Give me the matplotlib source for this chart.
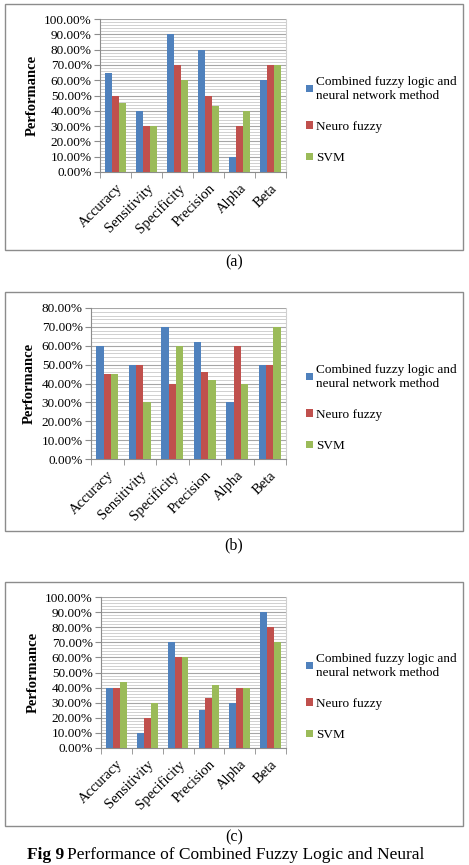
import matplotlib
matplotlib.use("Agg")
import matplotlib.pyplot as plt
from matplotlib.patches import Rectangle
from matplotlib.ticker import MultipleLocator, FuncFormatter
import numpy as np

plt.rcParams["font.family"] = ["Liberation Serif", "DejaVu Serif"]

categories = ["Accuracy", "Sensitivity", "Specificity", "Precision", "Alpha", "Beta"]
series_names = ["Combined fuzzy logic and\nneural network method", "Neuro fuzzy", "SVM"]
colors = ["#4F81BD", "#C0504D", "#9BBB59"]

# panel (a)
a_combined = [65, 40, 90, 80, 10, 60]
a_neuro = [50, 30, 70, 50, 30, 70]
a_svm = [45, 30, 60, 43, 40, 70]
# panel (b)
b_combined = [60, 50, 70, 62, 30, 50]
b_neuro = [45, 50, 40, 46, 60, 50]
b_svm = [45, 30, 60, 42, 40, 70]
# panel (c)
c_combined = [40, 10, 70, 25, 30, 90]
c_neuro = [40, 20, 60, 33, 40, 80]
c_svm = [44, 30, 60, 42, 40, 70]

W, H = 469, 865
fig = plt.figure(figsize=(W / 100, H / 100), dpi=100)


def frac(x0, y0, x1, y1):
    """pixel box (top-left origin) -> figure fraction rect"""
    return [x0 / W, 1 - y1 / H, (x1 - x0) / W, (y1 - y0) / H]


def panel(box, plot, ymax, data, tag, tag_y, leg_y):
    bx = frac(*box)
    fig.patches.append(Rectangle((bx[0], bx[1]), bx[2], bx[3], transform=fig.transFigure,
                                 fill=False, edgecolor="#8c8c8c", lw=1.0))
    ax = fig.add_axes(frac(*plot))
    x = np.arange(len(categories))
    bw = 0.225
    for i, (vals, c, name) in enumerate(zip(data, colors, series_names)):
        ax.bar(x + (i - 1) * bw, vals, bw, color=c, label=name, zorder=3)
    ax.set_xlim(-0.5, len(categories) - 0.5)
    ax.set_ylim(0, ymax)
    ax.yaxis.set_major_locator(MultipleLocator(10))
    ax.yaxis.set_minor_locator(MultipleLocator(2))
    ax.yaxis.set_major_formatter(FuncFormatter(lambda v, p: f"{v:.2f}%"))
    ax.grid(axis="y", which="major", color="#a6a6a6", lw=0.8, zorder=0)
    ax.grid(axis="y", which="minor", color="#d0d0d0", lw=0.7, zorder=0)
    ax.set_xticks(x)
    ax.set_xticklabels(categories, rotation=45, ha="right", rotation_mode="anchor",
                       fontsize=10.5)
    ax.set_xticks(np.arange(len(categories) + 1) - 0.5, minor=True)
    ax.tick_params(axis="x", which="major", length=0, pad=7)
    ax.tick_params(axis="x", which="minor", length=4, color="#8c8c8c")
    ax.tick_params(axis="y", which="major", length=4, color="#8c8c8c", labelsize=9.5, pad=2)
    ax.tick_params(axis="y", which="minor", length=0)
    for s in ("left", "bottom"):
        ax.spines[s].set_color("#8c8c8c")
    ax.spines["top"].set_visible(False)
    ax.spines["right"].set_color("#d0d0d0")
    ax.set_ylabel("Performance", fontsize=10.5, fontweight="bold", labelpad=4)
    ax.legend(loc="center left", bbox_to_anchor=(306 / W, 1 - leg_y / H),
              bbox_transform=fig.transFigure, frameon=False, fontsize=9.5,
              handlelength=0.5, handleheight=0.5, handletextpad=0.25,
              labelspacing=1.45, borderpad=0, borderaxespad=0)
    fig.text(234 / W, 1 - tag_y / H, tag, ha="center", va="center", fontsize=11.5)
    return ax


panel((5, 4, 463, 250), (100, 19, 286, 172), 100, [a_combined, a_neuro, a_svm], "(a)", 262, 120)
panel((5, 292, 463, 531), (91, 308, 286, 459), 80, [b_combined, b_neuro, b_svm], "(b)", 545, 408)
panel((5, 582, 463, 826), (101, 597, 286, 748), 100, [c_combined, c_neuro, c_svm], "(c)", 837, 697)

cap_y = 1 - 855 / H
t1 = fig.text(27 / W, cap_y, "Fig 9", ha="left", va="center", fontsize=12.5, fontweight="bold")
fig.canvas.draw()
bb = t1.get_window_extent()
fig.text((bb.x1 + 3) / W, cap_y, "Performance of Combined Fuzzy Logic and Neural",
         ha="left", va="center", fontsize=12.5)

fig.savefig("out.png", dpi=100)
